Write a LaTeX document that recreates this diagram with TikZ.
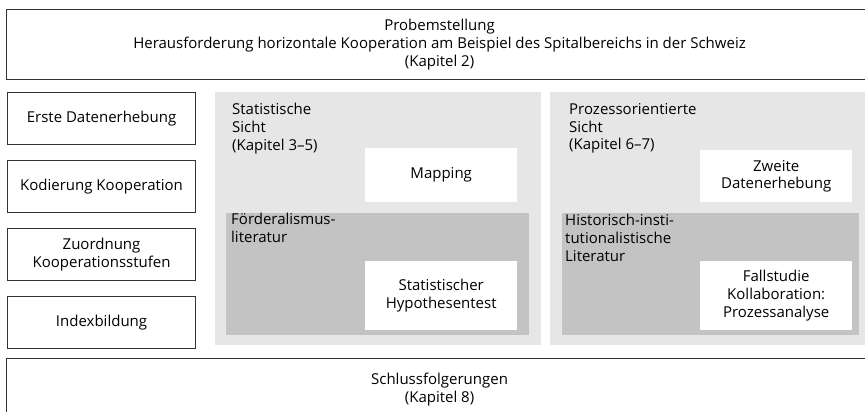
\documentclass[tikz,border=0pt]{standalone}
\usepackage{fontspec}
\setmainfont{Open Sans}
\usetikzlibrary{positioning}
\definecolor{psLine}{HTML}{333333}
\definecolor{psPanel}{HTML}{E6E6E6}
\definecolor{psInner}{HTML}{C3C3C3}
\newcommand{\psfont}{\fontsize{15}{17.8}\selectfont}
\tikzset{
  psnode/.style={
    draw=psLine, line width=1.1pt, font=\psfont, align=center, inner sep=0pt
  },
  frame/.style={psnode, minimum width=866pt, anchor=north west},
  stepbox/.style={psnode, minimum width=188pt, minimum height=52pt, anchor=north west},
  panel/.style={fill=psPanel, inner sep=0pt, anchor=north west, minimum height=253pt},
  inner/.style={fill=psInner, inner sep=0pt, anchor=north west, minimum height=122pt},
  work/.style={fill=white, font=\psfont, align=center, inner sep=0pt, minimum width=152pt, anchor=north west},
  caption/.style={font=\psfont, align=left, inner sep=0pt, anchor=north west}
}
\begin{document}
\begin{tikzpicture}[x=1pt, y=-1pt, node distance=15pt]
  \useasboundingbox (0,0) rectangle (865,412);
  \node[frame, minimum height=70pt] (prob) at (6,9)
    {Probemstellung\\Herausforderung horizontale Kooperation am Beispiel des Spitalbereichs in der Schweiz\\(Kapitel 2)};
  \node[stepbox] (a) at (7,92) {Erste Datenerhebung};
  \node[stepbox, below=of a] (b) {Kodierung Kooperation};
  \node[stepbox, below=of b] (c) {Zuordnung\\Kooperationsstufen};
  \node[stepbox, below=of c] (d) {Indexbildung};
  \node[panel, minimum width=326pt] (stat) at (215,92) {};
  \node[panel, minimum width=330pt] (proz) at (550,92) {};
  \node[inner, minimum width=303pt] (foed) at (226,213) {};
  \node[inner, minimum width=297pt] (hist) at (562,213) {};
  \node[caption] (statcap) at (232,103) {Statistische\\Sicht\\(Kapitel 3--5)};
  \node[caption] (prozcap) at (569,103) {Prozessorientierte\\Sicht\\(Kapitel 6--7)};
  \node[caption] (foedcap) at (231,213) {Förderalismus-\\literatur};
  \node[caption] (histcap) at (565,214) {Historisch-insti-\\tutionalistische\\Literatur};
  \node[work, minimum height=54pt] (map) at (365,148) {Mapping};
  \node[work, minimum height=69pt] (hyp) at (365,261) {Statistischer\\Hypothesentest};
  \node[work, minimum height=52pt] (zweit) at (700,150) {Zweite\\Datenerhebung};
  \node[work, minimum height=69pt] (fall) at (700,261) {Fallstudie\\Kollaboration:\\Prozessanalyse};
  \node[frame, minimum height=62pt] (schluss) at (6,358) {Schlussfolgerungen\\(Kapitel 8)};
\end{tikzpicture}
\end{document}
